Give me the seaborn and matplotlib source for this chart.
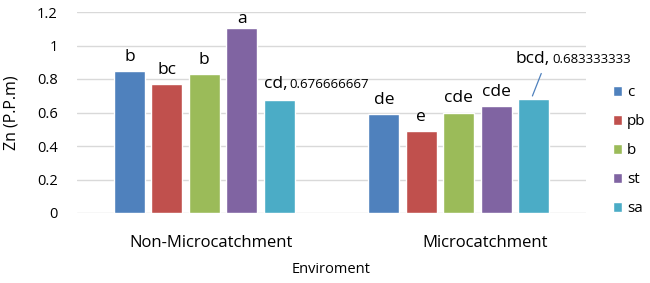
import matplotlib
matplotlib.use("Agg")
import matplotlib.pyplot as plt
import matplotlib.transforms as mtransforms
import seaborn as sns
import pandas as pd

environments = ["Non-Microcatchment", "Microcatchment"]
treatments = ["c", "pb", "b", "st", "sa"]
zn_non_micro = [0.85, 0.77, 0.83, 1.105, 0.676666667]
zn_micro = [0.59, 0.49, 0.60, 0.64, 0.683333333]
letters_non_micro = ["b", "bc", "b", "a", "cd"]
letters_micro = ["de", "e", "cde", "cde", "bcd"]
colors = ["#4F81BD", "#C0504D", "#9BBB59", "#8064A2", "#4BACC6"]
y_ticks = [0, 0.2, 0.4, 0.6, 0.8, 1, 1.2]
y_tick_labels = ["0", "0.2", "0.4", "0.6", "0.8", "1", "1.2"]

rows = []
for env, vals, lets in [(environments[0], zn_non_micro, letters_non_micro),
                        (environments[1], zn_micro, letters_micro)]:
    for t, v, l in zip(treatments, vals, lets):
        rows.append({"Enviroment": env, "treatment": t, "Zn": v, "letter": l})
df = pd.DataFrame(rows)

sns.set_theme(style="white")
FONT = "Open Sans"
plt.rcParams["font.family"] = [FONT, "DejaVu Sans"]
plt.rcParams["text.color"] = "black"
plt.rcParams["axes.labelcolor"] = "black"

fig = plt.figure(figsize=(6.5, 2.83), dpi=100)
ax = fig.add_axes([77 / 650, 1 - 213 / 283, (586 - 77) / 650, (213 - 12) / 283])

sns.barplot(data=df, x="Enviroment", y="Zn", hue="treatment", order=environments,
            hue_order=treatments, palette=colors, width=0.735, gap=0.17,
            saturation=1, ax=ax, legend=True, zorder=3)

ax.set_ylim(0, 1.2)
ax.set_yticks(y_ticks)
ax.set_yticklabels(y_tick_labels)
ax.yaxis.grid(True, color="#D9D9D9", linewidth=1, zorder=0)
ax.set_axisbelow(True)
for s in ax.spines.values():
    s.set_visible(False)
ax.tick_params(axis="y", length=0, pad=14, labelsize=10.5, colors="#000000")
ax.tick_params(axis="x", length=0, pad=16, labelsize=12, colors="#000000")
ax.set_xlabel("Enviroment", fontsize=10.5, labelpad=8)
ax.set_ylabel("Zn (P.P.m)", fontsize=11.5)
ax.yaxis.set_label_coords(-0.112, 0.5)

# shift category labels to the right like the reference
for lab, dx in zip(ax.get_xticklabels(), [7, 26]):
    lab.set_transform(lab.get_transform() +
                      mtransforms.ScaledTranslation(dx / 100, 0, fig.dpi_scale_trans))

# letter labels above bars (offsets in pixels)
for ti, cont in enumerate(ax.containers):
    if treatments[ti] == "sa":
        continue
    for ei, bar in enumerate(cont):
        sub = df[(df.Enviroment == environments[ei]) & (df.treatment == treatments[ti])]
        letter = sub.letter.iloc[0]
        cx = bar.get_x() + bar.get_width() / 2
        top = bar.get_height()
        off = 1 if letter == "a" else 6
        ax.annotate(letter, (cx, top), xytext=(0, off * 0.72), textcoords="offset points",
                    ha="center", va="bottom", fontsize=12.5)

# sa labels with values
sa_cont = ax.containers[treatments.index("sa")]
bar0 = sa_cont[0]
v0 = zn_non_micro[4]
ax.annotate(letters_non_micro[4] + ",", (bar0.get_x(), v0), xytext=(0, 5.5),
            textcoords="offset points", ha="left", va="bottom", fontsize=12.5)
ax.annotate(f"{v0:.9f}", (bar0.get_x(), v0), xytext=(18.5, 6.5),
            textcoords="offset points", ha="left", va="bottom", fontsize=9.5)

bar1 = sa_cont[1]
v1 = zn_micro[4]
ax.annotate("", xy=(bar1.get_x() + bar1.get_width() * 0.43, v1),
            xytext=(bar1.get_x() + bar1.get_width() * 0.78, v1 + 0.165),
            arrowprops=dict(arrowstyle="-", color="#4F81BD", lw=0.9))
ax.annotate(letters_micro[4] + ",", (bar1.get_x(), v1), xytext=(-2, 22.5),
            textcoords="offset points", ha="left", va="bottom", fontsize=12.5, annotation_clip=False)
ax.annotate(f"{v1:.9f}", (bar1.get_x(), v1), xytext=(25, 23.5),
            textcoords="offset points", ha="left", va="bottom", fontsize=9.5, annotation_clip=False)

handles, labels = ax.get_legend_handles_labels()
ax.legend_.remove()
fig.legend(handles, labels, loc="upper left", bbox_to_anchor=(607 / 650, 1 - 79 / 283),
           frameon=False, fontsize=11, handlelength=0.6, handleheight=0.6,
           handletextpad=0.3, labelspacing=0.92, borderaxespad=0)

fig.savefig("out.png", dpi=100)
